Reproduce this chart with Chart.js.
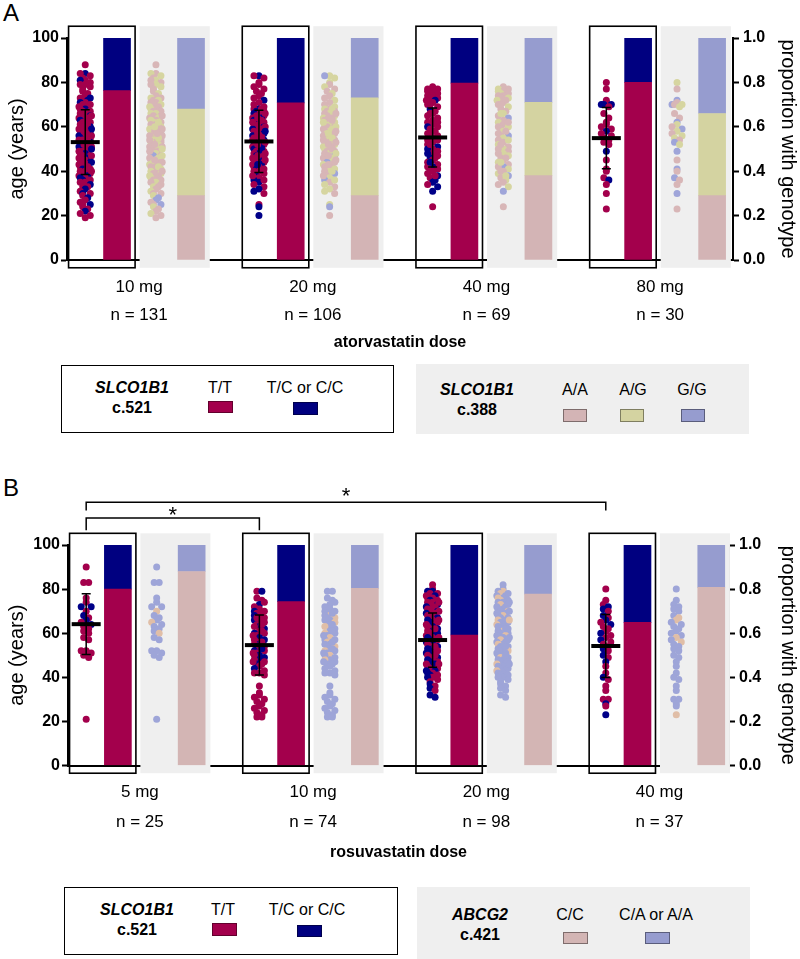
<!DOCTYPE html>
<html><head><meta charset="utf-8">
<script src="https://cdn.jsdelivr.net/npm/chart.js@4.4.0/dist/chart.umd.min.js"></script>
<style>
html,body{margin:0;padding:0;background:#fff;}
body{width:800px;height:959px;position:relative;overflow:hidden;font-family:'Liberation Sans',Arial,sans-serif;color:#000;}
canvas{position:absolute;left:0;}
.t{position:absolute;transform:translate(-50%,-50%);white-space:nowrap;font-size:16px;line-height:1;}
.b{font-weight:bold;}
.bi{font-weight:bold;font-style:italic;}
.sw{position:absolute;box-sizing:border-box;border:1px solid rgba(0,0,0,0.4);}
.panel{position:absolute;left:3px;font-size:24px;line-height:1;}
.lbox{position:absolute;box-sizing:border-box;}
</style></head><body>
<div class="panel" style="top:1px">A</div>
<canvas id="cA" width="800" height="360" style="top:0"></canvas>

<div class="lbox" style="left:61px;top:365px;width:333px;height:68px;border:1.5px solid #000"></div>
<div class="t bi" style="left:132px;top:388px">SLCO1B1</div>
<div class="t b" style="left:132px;top:408px">c.521</div>
<div class="t" style="left:220px;top:388px">T/T</div>
<div class="sw" style="left:208px;top:401px;width:25px;height:12px;background:#a3004c"></div>
<div class="t" style="left:305px;top:388px">T/C or C/C</div>
<div class="sw" style="left:293px;top:402px;width:25px;height:13px;background:#000080"></div>

<div class="lbox" style="left:416px;top:364px;width:333px;height:70px;background:#efefef"></div>
<div class="t bi" style="left:477px;top:390px">SLCO1B1</div>
<div class="t b" style="left:477px;top:410px">c.388</div>
<div class="t" style="left:575px;top:390px">A/A</div>
<div class="sw" style="left:563px;top:409px;width:24px;height:13px;background:#d3b4b5"></div>
<div class="t" style="left:633px;top:390px">A/G</div>
<div class="sw" style="left:620px;top:409px;width:24px;height:13px;background:#d4d3a1"></div>
<div class="t" style="left:692px;top:390px">G/G</div>
<div class="sw" style="left:681px;top:409px;width:24px;height:13px;background:#969ccf"></div>

<div class="panel" style="top:476px">B</div>
<canvas id="cB" width="800" height="440" style="top:440px"></canvas>

<div class="lbox" style="left:64px;top:887px;width:334px;height:68px;border:1.5px solid #000"></div>
<div class="t bi" style="left:137px;top:910px">SLCO1B1</div>
<div class="t b" style="left:137px;top:930px">c.521</div>
<div class="t" style="left:223px;top:910px">T/T</div>
<div class="sw" style="left:212px;top:923px;width:25px;height:13px;background:#a3004c"></div>
<div class="t" style="left:307px;top:910px">T/C or C/C</div>
<div class="sw" style="left:297px;top:925px;width:25px;height:12px;background:#000080"></div>

<div class="lbox" style="left:417px;top:887px;width:333px;height:72px;background:#efefef"></div>
<div class="t bi" style="left:480px;top:915px">ABCG2</div>
<div class="t b" style="left:480px;top:935px">c.421</div>
<div class="t" style="left:570px;top:915px">C/C</div>
<div class="sw" style="left:563px;top:932px;width:25px;height:12px;background:#d3b5b4"></div>
<div class="t" style="left:656px;top:915px">C/A or A/A</div>
<div class="sw" style="left:645px;top:932px;width:25px;height:12px;background:#969ccf"></div>

<script>
// ================= DATA: panel A (atorvastatin) =================
const dosesA = ['10 mg', '20 mg', '40 mg', '80 mg'];
const nA = [131, 106, 69, 30];
const meanAgeA = [53.1, 53.4, 55.2, 54.9];
const sdAgeA = [14.6, 14.0, 13.3, 13.8];
const propTT_A = [0.763, 0.708, 0.797, 0.800];   // SLCO1B1 c.521 T/T (rest T/C or C/C)
const propAA_A = [0.29, 0.29, 0.38, 0.29];       // SLCO1B1 c.388 A/A
const propAG_A = [0.39, 0.44, 0.33, 0.37];       // A/G (rest G/G)

// ages (years); c521: 0 = T/T, 1 = T/C or C/C ; c388: 0 = A/A, 1 = A/G, 2 = G/G
const ageA10 = [88,84,84,83,82,81,81,80,79,79, 78,77,76,75,74,73,73,72,72,71, 71,70,70,69,69,68,68,67,67,66, 66,65,65,64,64,63,63,62,62,61, 61,60,60,60,59,59,58,58,57,57, 56,56,56,55,55,54,54,53,53,53, 52,52,51,51,50,50,50,49,49,48, 48,47,47,46,46,45,45,44,44,43, 43,42,42,41,41,40,40,39,39,38, 38,37,37,36,36,35,35,34,33,33, 32,31,30,30,29,28,27,26,25,25, 24,23,22,21,20,19,65,62,58,55, 52,49,47,44,42,40,57,60,45,50, 54];
const c521A10 = [0,1,0,0,0,0,1,0,0,0, 0,0,0,0,0,0,1,0,1,0, 1,0,0,0,0,1,0,0,0,0, 0,1,0,0,0,0,1,0,0,0, 0,1,0,0,0,1,0,0,1,0, 0,1,0,0,1,0,0,0,0,1, 0,0,1,0,0,1,0,0,0,1, 0,0,0,1,0,0,0,1,0,0, 0,0,0,0,1,0,0,0,0,1, 0,0,1,0,1,0,0,1,0,0, 1,0,0,1,0,1,0,0,1,0, 0,0,1,0,0,0,0,0,0,0, 0,0,0,1,0,0,0,0,0,1, 0];
const c388A10 = [0,0,1,1,0,1,0,0,1,0, 1,0,0,1,0,1,0,0,1,0, 0,1,0,0,1,0,1,0,0,1, 1,0,0,1,0,0,1,0,1,0, 0,1,0,0,1,0,0,1,0,1, 1,0,0,1,0,0,1,0,1,0, 0,1,0,0,1,0,1,0,0,1, 0,0,2,1,0,1,0,0,1,0, 1,0,0,1,0,0,1,1,0,0, 1,0,1,0,0,1,0,0,1,0, 0,1,0,0,1,2,2,0,2,0, 1,0,0,1,0,0,0,1,0,1, 0,0,1,0,1,0,0,1,0,1, 0];

const ageA20 = [83,83,82,80,79,78,77,76,75,74, 73,72,71,70,69,68,68,67,67,66, 66,65,65,64,64,63,63,62,62,61, 61,60,60,59,59,58,58,57,57,56, 56,55,55,54,54,53,53,52,52,51, 51,50,50,49,49,48,48,47,47,46, 46,45,45,44,44,43,43,42,42,41, 41,40,40,39,38,37,36,35,34,33, 32,31,30,25,24,20,68,66,63,60, 58,55,53,50,48,45,43,40,38,36, 64,57,52,47,62,54];
const c521A20 = [1,0,0,0,0,0,0,0,0,0, 0,1,0,0,0,1,0,0,1,0, 1,0,0,1,0,0,1,0,1,0, 0,1,0,0,1,0,0,1,0,0, 1,0,0,1,0,0,1,0,0,1, 0,0,1,0,0,1,0,0,1,0, 0,1,0,0,0,1,0,0,0,0, 1,0,0,0,1,0,1,1,0,0, 1,1,0,0,1,1,0,0,0,0, 1,0,0,1,0,0,1,0,0,0, 0,0,0,0,0,0];
const c388A20 = [1,2,1,1,0,1,0,0,1,0, 0,1,0,0,1,0,1,0,0,1, 0,1,0,0,1,0,0,1,0,1, 1,0,0,1,0,1,0,0,1,0, 0,1,0,0,1,0,0,1,0,0, 1,0,1,0,0,1,0,2,0,1, 0,1,0,0,2,0,1,0,0,1, 0,1,0,2,0,1,2,0,1,0, 1,1,0,1,2,0,1,0,0,1, 0,1,0,0,1,0,0,1,0,1, 0,1,0,0,1,0];

const ageA40 = [78,77,77,76,76,75,75,74,74,73, 73,72,72,71,70,69,68,67,66,65, 64,63,62,61,60,60,59,58,57,56, 56,55,54,53,52,51,50,50,49,48, 48,47,46,45,44,43,42,42,41,40, 39,38,37,36,35,34,33,31,24,70, 66,62,58,54,52,46,44,40,38];
const c521A40 = [0,0,0,0,0,0,0,0,0,0, 0,1,0,0,0,0,1,0,0,0, 0,0,0,0,1,0,0,0,0,0, 0,0,0,0,0,1,0,1,0,0, 1,0,1,0,0,0,1,0,0,0, 0,1,0,1,1,0,1,1,0,0, 0,0,0,0,0,0,1,0,0];
const c388A40 = [0,1,0,0,1,0,1,0,0,1, 0,0,1,0,0,1,0,0,1,0, 2,0,1,0,0,1,0,1,0,2, 0,1,0,0,1,0,1,0,0,1, 0,1,0,0,1,0,2,0,1,0, 1,2,0,1,0,0,1,2,0,0, 1,0,0,1,0,0,1,0,1];

const ageA80 = [80,77,72,71,70,70,70,69,66,64, 62,61,60,59,58,57,56,55,54,53, 52,49,45,41,40,37,36,34,30,23];
const c521A80 = [0,0,0,0,1,1,1,0,0,0, 0,0,0,0,1,0,0,0,0,0, 0,1,0,0,0,0,1,0,0,0];
const c388A80 = [1,0,2,0,2,1,0,1,0,0, 2,1,0,2,1,0,1,1,0,2, 1,2,0,2,0,2,0,0,2,0];

// ================= DATA: panel B (rosuvastatin) =================
const dosesB = ['5 mg', '10 mg', '20 mg', '40 mg'];
const nB = [25, 74, 98, 37];
const meanAgeB = [64.1, 54.6, 56.9, 54.2];
const sdAgeB = [13.8, 13.6, 12.3, 14.3];
const propTT_B = [0.80, 0.743, 0.592, 0.649];    // SLCO1B1 c.521 T/T
const propCC_B = [0.88, 0.803, 0.777, 0.808];    // ABCG2 c.421 C/C (rest C/A or A/A)
const sigPairsB = [[0, 1], [0, 3]];              // significant comparisons (*)
const sigLabelsB = ['*', '*'];

// c421 dot colour codes: 0 = C/C, 1 = C/A or A/A
const ageB5 = [90,83,83,76,74,72,72,70,68,67, 66,65,64,63,62,61,60,58,57,52, 52,51,50,49,21];
const c521B5 = [0,0,0,0,0,1,1,0,1,0, 1,0,1,0,0,0,0,0,0,0, 0,0,0,0,0];
const c421B5 = [1,1,1,1,1,1,1,0,1,1, 1,0,1,1,1,1,0,1,1,1, 1,1,1,1,1];

const ageB10 = [79,79,76,75,73,72,71,70,70,69, 68,68,67,66,66,65,64,63,63,62, 61,60,60,59,58,57,57,56,55,55, 54,54,53,52,52,51,50,50,49,48, 48,47,46,46,45,44,43,42,42,41, 36,33,32,31,30,29,28,27,26,25, 24,23,22,22,74,69,67,64,61,59, 56,53,51,47];
const c521B10 = [0,1,0,0,1,0,0,1,0,0, 0,1,0,0,1,0,0,1,0,1, 0,1,0,0,1,0,1,0,1,0, 0,1,0,1,0,0,1,0,1,1, 0,0,1,0,0,1,0,0,0,0, 0,0,0,0,0,0,0,0,0,0, 0,0,0,0,0,0,0,0,0,0, 0,1,0,0];
const c421B10 = [1,1,1,1,1,1,1,1,1,1, 0,1,0,1,1,0,1,1,0,1, 1,0,1,1,0,1,1,0,1,1, 0,1,1,0,1,1,0,1,1,1, 0,1,1,1,1,1,1,1,1,1, 1,1,1,1,1,1,1,1,1,1, 1,1,1,1,1,1,1,1,1,1, 1,1,1,1];

const ageB20 = [82,80,79,79,78,78,77,77,76,76, 75,75,74,74,73,73,72,72,71,71, 70,70,69,69,68,68,67,67,66,66, 65,65,64,64,63,63,62,62,61,61, 60,60,59,59,58,58,57,57,56,56, 55,55,54,54,53,53,52,52,51,51, 50,50,49,49,48,48,47,47,46,46, 45,45,44,44,43,43,42,42,41,41, 40,40,39,38,37,36,35,34,32,31, 74,70,66,62,58,54,50,46];
const c521B20 = [0,0,1,1,0,0,1,0,0,0, 0,1,0,0,1,0,0,1,0,0, 1,0,0,1,0,0,1,0,0,1, 0,1,0,0,1,0,1,0,1,0, 1,0,1,0,0,1,0,1,0,1, 1,0,1,0,1,1,0,1,0,1, 1,0,1,0,0,1,0,1,1,0, 1,0,0,0,1,1,0,1,0,1, 0,1,0,0,1,0,1,0,1,1, 0,0,0,0,0,0,0,0];
const c421B20 = [1,1,0,1,1,0,1,1,1,0, 1,0,1,1,1,0,1,1,1,1, 0,1,1,1,0,1,1,1,1,0, 1,1,1,0,1,1,1,1,0,1, 1,1,0,1,1,1,1,0,1,1, 1,0,1,1,1,1,0,1,1,1, 1,1,1,0,1,1,1,1,1,0, 1,1,1,1,1,0,1,1,1,1, 1,1,1,1,1,1,1,1,1,1, 1,1,0,1,1,1,1,1];

const ageB40 = [80,75,73,72,71,70,68,67,66,65, 64,63,62,61,60,59,58,57,56,55, 54,53,52,50,49,47,45,42,40,39, 36,34,30,30,28,27,23];
const c521B40 = [0,0,0,1,1,0,1,0,1,0, 1,0,0,0,1,0,0,1,0,0, 0,1,0,1,0,1,0,0,1,0, 0,0,0,0,1,0,1];
const c421B40 = [1,1,1,1,1,1,1,0,0,1, 1,1,1,1,1,1,0,1,0,1, 1,1,1,1,1,1,1,1,1,1, 1,1,1,1,1,1,0];

// ================= LAYOUT / STYLE =================
const FONT = "'Liberation Sans', Arial, sans-serif";
const COL = {tt: '#a3004c', tc: '#000080'};
// position of each element inside one dose slot (fraction of the slot)
const SLOT = {boxL: 0.009, boxR: 0.392, dots: 0.105, bar: 0.288, greyL: 0.418, greyR: 0.822, gdots: 0.512, gbar: 0.714, label: 0.415};
const FRAME = {top: 105.3, bottom: -3.5};   // vertical extent of boxes / grey panels (age units)
const STEP = 5 / 173.5;                      // horizontal step of the dot swarm
const SWARM = [0, -1, 1, -0.5, 0.5, -1.25, 1.25, -0.25, 0.25, -0.75, 0.75];

function swarmOffsets(ages) {
  const bin = 2.6, total = {}, seen = {};
  ages.forEach(a => { const k = Math.round(a / bin); total[k] = (total[k] || 0) + 1; });
  return ages.map(a => {
    const k = Math.round(a / bin);
    const j = seen[k] = (seen[k] === undefined ? 0 : seen[k] + 1);
    if (total[k] === 2) return j === 0 ? -0.5 : 0.5;
    return SWARM[j % SWARM.length];
  });
}

function makePanel(canvasId, P) {
  const G = P.doses.length;
  const leftDots = [], leftCols = [], rightDots = [], rightCols = [];
  P.ages.forEach((arr, g) => {
    const off = swarmOffsets(arr);
    arr.forEach((age, k) => {
      const dx = off[k] * STEP;
      leftDots.push({x: g + SLOT.dots + dx, y: age});
      leftCols.push(P.leftDotColors[P.leftCodes[g][k]]);
      rightDots.push({x: g + SLOT.gdots + dx, y: age});
      rightCols.push(P.rightDotColors[P.rightCodes[g][k]]);
    });
  });
  function ranges(props) {
    return P.doses.map((_, g) => {
      const cuts = [0];
      props.forEach(arr => cuts.push(cuts[cuts.length - 1] + arr[g]));
      cuts.push(1);
      return cuts.slice(1).map((c, s) => [cuts[s], c]);
    });
  }
  const lr = ranges(P.leftProps), rr = ranges(P.rightProps);
  const barDs = (rg, s, slot, color) => ({
    type: 'bar', data: P.doses.map((_, g) => ({x: g + slot, y: rg[g][s]})),
    backgroundColor: color, yAxisID: 'y2', grouped: false, barThickness: 27,
    borderWidth: 0, borderSkipped: false
  });
  const datasets = [
    {type: 'scatter', data: leftDots, yAxisID: 'y', pointRadius: 3.5, pointBorderWidth: 0,
     pointBackgroundColor: leftCols, backgroundColor: leftCols, showLine: false},
    {type: 'scatter', data: rightDots, yAxisID: 'y', pointRadius: 3.5, pointBorderWidth: 0,
     pointBackgroundColor: rightCols, backgroundColor: rightCols, showLine: false}
  ];
  P.leftBarColors.forEach((c, s) => datasets.push(barDs(lr, s, SLOT.bar, c)));
  P.rightBarColors.forEach((c, s) => datasets.push(barDs(rr, s, SLOT.gbar, c)));

  const deco = {
    id: 'deco_' + canvasId,
    beforeDatasetsDraw(chart) {
      const {ctx} = chart, x = chart.scales.x, y = chart.scales.y;
      ctx.save();
      ctx.fillStyle = '#efefef';
      const t = y.getPixelForValue(FRAME.top), b = y.getPixelForValue(FRAME.bottom);
      for (let g = 0; g < G; g++) {
        const l = x.getPixelForValue(g + SLOT.greyL), r = x.getPixelForValue(g + SLOT.greyR);
        ctx.fillRect(l, t, r - l, b - t);
      }
      ctx.restore();
    },
    afterDatasetsDraw(chart) {
      const {ctx} = chart, x = chart.scales.x, y = chart.scales.y;
      ctx.save();
      ctx.strokeStyle = '#000';
      const t = y.getPixelForValue(FRAME.top), b = y.getPixelForValue(FRAME.bottom);
      ctx.lineWidth = 1.6;
      for (let g = 0; g < G; g++) {
        const l = x.getPixelForValue(g + SLOT.boxL), r = x.getPixelForValue(g + SLOT.boxR);
        ctx.strokeRect(l, t, r - l, b - t);
      }
      // mean +/- SD
      for (let g = 0; g < G; g++) {
        const cx = x.getPixelForValue(g + SLOT.dots);
        const ym = y.getPixelForValue(P.means[g]);
        const y1 = y.getPixelForValue(P.means[g] + P.sds[g]);
        const y2 = y.getPixelForValue(P.means[g] - P.sds[g]);
        ctx.lineWidth = 1.5;
        ctx.beginPath();
        ctx.moveTo(cx, y1); ctx.lineTo(cx, y2);
        ctx.moveTo(cx - 4.5, y1); ctx.lineTo(cx + 4.5, y1);
        ctx.moveTo(cx - 4.5, y2); ctx.lineTo(cx + 4.5, y2);
        ctx.stroke();
        ctx.lineWidth = 4;
        ctx.beginPath();
        ctx.moveTo(cx - 14.5, ym); ctx.lineTo(cx + 14.5, ym);
        ctx.stroke();
      }
      // significance brackets
      if (P.sig) {
        ctx.lineWidth = 1.5;
        ctx.fillStyle = '#000';
        ctx.font = '22px ' + FONT;
        ctx.textAlign = 'center';
        ctx.textBaseline = 'alphabetic';
        P.sig.pairs.forEach((pr, k) => {
          const xl = x.getPixelForValue(pr[0] + SLOT.dots), xr = x.getPixelForValue(pr[1] + SLOT.dots);
          const yl = y.getPixelForValue(P.sig.level[k]);
          const yd = y.getPixelForValue(P.sig.level[k] - P.sig.drop[k]);
          ctx.beginPath();
          ctx.moveTo(xl, yd); ctx.lineTo(xl, yl); ctx.lineTo(xr, yl); ctx.lineTo(xr, yd);
          ctx.stroke();
          ctx.fillText(P.sig.labels[k], (xl + xr) / 2, yl - P.sig.gap[k] + 12.6);
        });
      }
      ctx.restore();
    }
  };

  const tickFont = {family: FONT, size: 16, weight: 'bold'};
  const yGrid = {display: true, drawOnChartArea: false, drawTicks: true, tickLength: 6, tickWidth: 2, tickColor: '#000'};
  const border = {display: true, color: '#000', width: 2};

  return new Chart(document.getElementById(canvasId), {
    type: 'bar',
    data: {datasets},
    options: {
      responsive: false, animation: false, devicePixelRatio: 1, events: [],
      layout: {padding: {top: P.padTop, left: 0, right: 0, bottom: 0}},
      plugins: {legend: {display: false}, tooltip: {enabled: false}},
      scales: {
        x: {
          type: 'linear', min: 0, max: P.xMax, offset: false, z: 1,
          grid: {display: false, drawTicks: false}, border,
          afterBuildTicks: s => { s.ticks = P.doses.map((_, g) => ({value: g + SLOT.label})); },
          afterFit: s => { s.height = P.xAxisHeight; },
          ticks: {autoSkip: false, maxRotation: 0, minRotation: 0, padding: P.labelPad, color: '#000',
                  font: {family: FONT, size: 17, lineHeight: P.labelLH / 17},
                  callback: (v, i) => [P.doses[i], 'n = ' + P.ns[i]]},
          title: {display: true, text: P.xTitle, color: '#000',
                  font: {family: FONT, size: 16, weight: 'bold'}, padding: {top: 0, bottom: P.titlePad}}
        },
        y: {
          position: 'left', min: 0, max: 100,
          ticks: {stepSize: 20, color: '#000', font: tickFont, padding: 2},
          grid: yGrid, border,
          afterFit: s => { s.width = P.leftW; },
          title: {display: true, text: 'age (years)', color: '#000', font: {family: FONT, size: 20}, padding: {top: 5, bottom: 0}}
        },
        y2: {
          position: 'right', min: 0, max: 1,
          ticks: {stepSize: 0.2, color: '#000', font: tickFont, padding: 4, callback: v => v.toFixed(1)},
          grid: yGrid, border,
          afterFit: s => { s.width = P.rightW; },
          title: {display: true, text: 'proportion with genotype', color: '#000', font: {family: FONT, size: 20}, padding: {top: 0, bottom: 0}}
        }
      }
    },
    plugins: [deco]
  });
}

makePanel('cA', {
  doses: dosesA, ns: nA, means: meanAgeA, sds: sdAgeA,
  ages: [ageA10, ageA20, ageA40, ageA80],
  leftCodes: [c521A10, c521A20, c521A40, c521A80],
  rightCodes: [c388A10, c388A20, c388A40, c388A80],
  leftDotColors: ['#a3004c', '#000088'],
  rightDotColors: ['#d8b6b7', '#d6d5a0', '#9fa5d9'],
  leftProps: [propTT_A], rightProps: [propAA_A, propAG_A],
  leftBarColors: [COL.tt, COL.tc],
  rightBarColors: ['#d3b4b5', '#d4d3a1', '#969ccf'],
  xTitle: 'atorvastatin dose',
  padTop: 38, xAxisHeight: 100, labelPad: 13, labelLH: 28, titlePad: 7.4,
  leftW: 67, rightW: 67, xMax: 666 / 173.7
});

makePanel('cB', {
  doses: dosesB, ns: nB, means: meanAgeB, sds: sdAgeB,
  ages: [ageB5, ageB10, ageB20, ageB40],
  leftCodes: [c521B5, c521B10, c521B20, c521B40],
  rightCodes: [c421B5, c421B10, c421B20, c421B40],
  leftDotColors: ['#a3004c', '#000088'],
  rightDotColors: ['#e0bea7', '#9ea5d8'],
  leftProps: [propTT_B], rightProps: [propCC_B],
  leftBarColors: [COL.tt, COL.tc],
  rightBarColors: ['#d3b5b4', '#969ccf'],
  xTitle: 'rosuvastatin dose',
  sig: {pairs: sigPairsB, labels: sigLabelsB, level: [112.2, 119.4], drop: [5.5, 3.8], gap: [8.3, 11.7]},
  padTop: 105, xAxisHeight: 114.5, labelPad: 11.5, labelLH: 30, titlePad: 17.4,
  leftW: 68, rightW: 71, xMax: 661 / 173.2
});
</script>
</body></html>
